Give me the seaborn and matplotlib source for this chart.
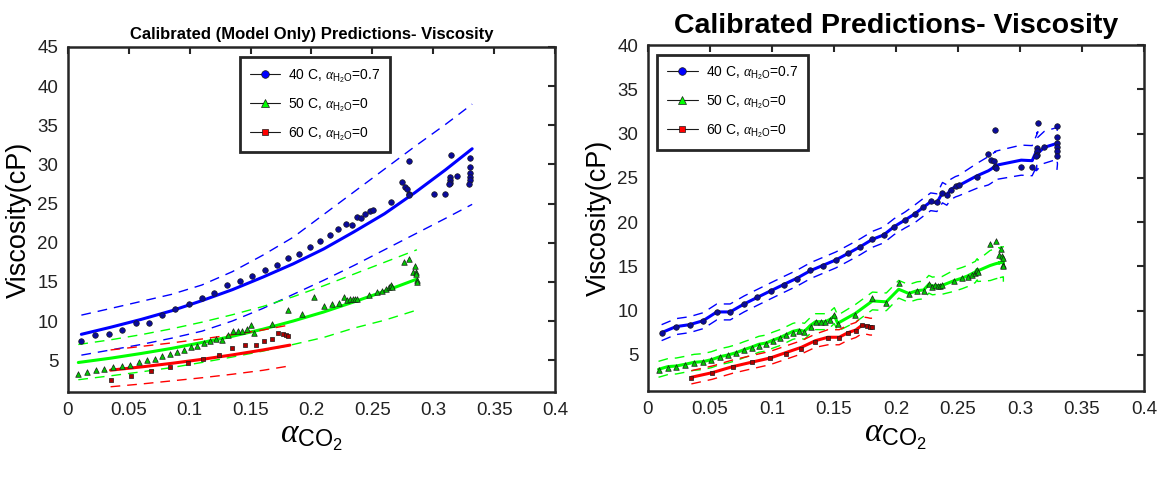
import matplotlib
matplotlib.use("Agg")
import matplotlib.pyplot as plt
from matplotlib.lines import Line2D
import seaborn as sns

# ---------------- measured viscosities ----------------
a40 = [0.011, 0.0225, 0.0335, 0.0445, 0.0555, 0.0663, 0.0775, 0.0883, 0.0992, 0.1098,
       0.120, 0.131, 0.1413, 0.1515, 0.1615, 0.1713, 0.181, 0.190, 0.1985, 0.2073,
       0.215, 0.222, 0.228, 0.233, 0.2375, 0.241, 0.2442, 0.248, 0.2505, 0.265,
       0.2745, 0.2768, 0.2787, 0.2798, 0.2803, 0.2800, 0.3010, 0.3098, 0.3145, 0.3135,
       0.3135, 0.3135, 0.3130, 0.3195, 0.3300, 0.3300, 0.3302, 0.3302, 0.3300, 0.3298]
v40 = [7.5, 8.2, 8.4, 8.8, 9.8, 9.8, 10.75, 11.5, 12.2, 12.9,
       13.6, 14.6, 15.05, 15.73, 16.46, 17.2, 18.05, 18.55, 19.48, 20.25,
       20.93, 21.7, 22.34, 22.25, 23.27, 23.1, 23.66, 24.08, 24.21, 25.15,
       27.7, 27.07, 26.85, 26.26, 26.09, 30.43, 26.26, 26.2, 31.16, 28.39,
       28.0, 27.58, 27.49, 28.5, 30.81, 29.62, 28.94, 28.43, 28.0, 27.5]

a50 = [0.0085, 0.0159, 0.023, 0.030, 0.0372, 0.0444, 0.0512, 0.0581, 0.0646, 0.0712,
       0.0775, 0.0838, 0.0895, 0.0953, 0.101, 0.1062, 0.1114, 0.1169, 0.1216, 0.1262,
       0.1311, 0.1352, 0.1393, 0.1429, 0.147, 0.1503, 0.153, 0.1673, 0.1810, 0.1922,
       0.2022, 0.2102, 0.2171, 0.2223, 0.2265, 0.2294, 0.2316, 0.2338, 0.2357, 0.2371,
       0.2469, 0.2535, 0.2577, 0.2615, 0.264, 0.2650, 0.2655, 0.2660, 0.2759, 0.2803,
       0.2847, 0.283, 0.2858, 0.2862, 0.2866, 0.2866]
v50 = [3.25, 3.55, 3.68, 3.89, 4.1, 4.23, 4.4, 4.79, 5.0, 5.21,
       5.51, 5.81, 6.06, 6.28, 6.62, 6.87, 7.21, 7.47, 7.72, 7.56,
       8.19, 8.7, 8.7, 8.74, 9.0, 9.51, 8.5, 9.56, 11.45, 10.88,
       13.12, 11.86, 12.2, 12.26, 13.07, 12.67, 12.85, 12.83, 12.8, 12.85,
       13.3, 13.69, 13.78, 14.07, 14.29, 14.45, 14.55, 14.35, 17.56, 17.87,
       17.01, 16.29, 16.2, 15.95, 15.2, 15.0]

a60 = [0.035, 0.0518, 0.0682, 0.0835, 0.0986, 0.1111, 0.1238, 0.135, 0.1451, 0.1542,
       0.1613, 0.1676, 0.1725, 0.1769, 0.1791, 0.1807]
v60 = [2.44, 2.92, 3.64, 4.15, 4.66, 5.13, 5.72, 6.49, 6.92, 6.88,
       7.43, 7.68, 8.41, 8.32, 8.16, 8.11]

# ---------------- model-only curves (mean and bounds) ----------------
grid40 = [0.011, 0.035, 0.06, 0.085, 0.11, 0.135, 0.16, 0.185, 0.21, 0.235, 0.26, 0.285, 0.31, 0.332]
fit40 = [8.3, 9.2, 10.2, 11.3, 12.6, 14.0, 15.6, 17.3, 19.2, 21.4, 23.7, 26.4, 29.3, 32.0]
hi40 = [10.75, 11.6, 12.5, 13.4, 14.6, 16.3, 18.4, 20.7, 23.6, 26.5, 29.4, 32.3, 35.1, 37.7]
lo40 = [5.64, 6.3, 7.0, 7.8, 8.7, 10.0, 11.6, 13.4, 15.2, 17.1, 19.1, 21.1, 23.1, 24.9]

grid50 = [0.0085, 0.035, 0.06, 0.085, 0.11, 0.135, 0.16, 0.185, 0.21, 0.235, 0.26, 0.2866]
fit50 = [4.7, 5.25, 5.85, 6.5, 7.25, 8.05, 8.95, 10.0, 11.15, 12.45, 13.8, 15.35]
hi50 = [7.0, 7.6, 8.25, 9.0, 9.85, 10.8, 11.85, 13.1, 14.5, 16.0, 17.5, 19.1]
lo50 = [2.5, 3.0, 3.5, 4.05, 4.7, 5.4, 6.15, 7.0, 7.9, 9.1, 10.1, 11.4]

grid60 = [0.035, 0.06, 0.085, 0.11, 0.135, 0.16, 0.1823]
fit60 = [3.72, 4.13, 4.59, 5.1, 5.67, 6.3, 6.92]
hi60 = [6.3, 6.75, 7.2, 7.7, 8.25, 8.85, 9.5]
lo60 = [1.6, 1.95, 2.35, 2.75, 3.2, 3.7, 4.27]

# ---------------- calibrated predictions at each measurement ----------------
p40 = [7.52, 8.2, 8.42, 8.87, 9.86, 9.86, 10.76, 11.51, 12.26, 12.98,
       13.66, 14.52, 15.13, 15.73, 16.48, 17.23, 18.06, 18.55, 19.49, 20.24,
       20.92, 21.67, 22.3, 22.2, 23.33, 23.06, 23.7, 24.0, 24.12, 25.21,
       25.8, 26.0, 26.2, 26.34, 26.3, 26.4, 27.0, 26.94, 28.4, 28.3,
       28.0, 27.7, 27.6, 28.44, 28.9, 28.6, 28.44, 28.3, 28.0, 27.7]
w40 = [0.9] * 20 + [1.0] * 4 + [1.15] * 5 + [1.4] + [1.6] * 6 + [1.7] * 2 + [1.8] * 12

p50 = [3.38, 3.68, 3.76, 3.95, 4.17, 4.25, 4.47, 4.81, 5.0, 5.26,
       5.6, 5.9, 6.21, 6.35, 6.69, 6.95, 7.29, 7.67, 7.82, 7.67,
       8.35, 8.76, 8.76, 8.76, 9.03, 9.44, 8.58, 9.7, 11.1, 11.0,
       12.42, 11.95, 12.26, 12.34, 12.98, 12.79, 12.83, 12.83, 12.85, 12.85,
       13.39, 13.69, 13.92, 14.2, 14.37, 14.6, 14.67, 14.5, 15.1, 15.3,
       15.45, 15.4, 15.5, 15.5, 15.53, 14.97]
w50 = [0.9] * 27 + [1.0] * 13 + [1.2] * 8 + [1.7] * 8

p60 = [2.48, 3.0, 3.68, 4.18, 4.66, 5.26, 5.87, 6.61, 7.0, 7.0,
       7.52, 7.82, 8.35, 8.27, 8.2, 8.2]
w60 = [0.75] * 8 + [0.85] * 4 + [0.95] * 4

xtick_vals = [0, 0.05, 0.1, 0.15, 0.2, 0.25, 0.3, 0.35, 0.4]
xtick_text = ["0", "0.05", "0.1", "0.15", "0.2", "0.25", "0.3", "0.35", "0.4"]
legend_text = [r"40 C, $\alpha_{\mathrm{H_2O}}$=0.7",
               r"50 C, $\alpha_{\mathrm{H_2O}}$=0",
               r"60 C, $\alpha_{\mathrm{H_2O}}$=0"]

# ---------------- styling ----------------
sns.set_theme(style="white")
plt.rcParams["font.family"] = ["Liberation Sans", "DejaVu Sans"]
plt.rcParams["mathtext.fontset"] = "custom"
plt.rcParams["mathtext.rm"] = "Liberation Sans"
plt.rcParams["mathtext.it"] = "Liberation Serif:italic"
plt.rcParams["mathtext.bf"] = "Liberation Sans:bold"
plt.rcParams["text.color"] = "black"
plt.rcParams["axes.labelcolor"] = "black"

BLUE, GREEN, RED = "#0000ff", "#00ff00", "#ff0000"
DASH = (0, (7, 5))
AX_COLOR = "#262626"

series = [
    dict(a=a40, v=v40, grid=grid40, fit=fit40, hi=hi40, lo=lo40, p=p40, w=w40,
         color=BLUE, marker="o", face="#0a0a9c", s=16, lface=BLUE),
    dict(a=a50, v=v50, grid=grid50, fit=fit50, hi=hi50, lo=lo50, p=p50, w=w50,
         color=GREEN, marker="^", face="#00c800", s=16, lface=GREEN),
    dict(a=a60, v=v60, grid=grid60, fit=fit60, hi=hi60, lo=lo60, p=p60, w=w60,
         color=RED, marker="s", face="#b00000", s=10, lface=RED),
]

fig = plt.figure(figsize=(11.6, 4.79), dpi=100)
ax_l = fig.add_axes([0.0586, 0.1816, 0.4198, 0.7203])
ax_r = fig.add_axes([0.5586, 0.1837, 0.4276, 0.7223])


def style_axes(ax, ymax, yticks):
    ax.set_xlim(0, 0.4)
    ax.set_ylim(0.93, ymax)
    ax.set_xticks(xtick_vals)
    ax.set_xticklabels(xtick_text)
    ax.set_yticks(yticks)
    ax.set_yticklabels([str(t) for t in yticks])
    ax.tick_params(direction="in", top=True, right=True, length=5, width=1.5,
                   color=AX_COLOR, labelsize=13.5, pad=7, labelcolor="#222222")
    for sp in ax.spines.values():
        sp.set_linewidth(1.8)
        sp.set_color(AX_COLOR)
    ax.set_xlabel(r"$\alpha_{\mathrm{CO_2}}$", fontsize=24, labelpad=2)
    ax.set_ylabel("Viscosity(cP)", fontsize=19.5, labelpad=4)


def add_legend(ax, anchor):
    handles = [Line2D([0], [0], color="k", lw=0.8, marker=s["marker"],
                      markerfacecolor=s["lface"], markeredgecolor="k",
                      markeredgewidth=0.5, markersize=5.5 if s["marker"] != "s" else 4.5)
               for s in series]
    leg = ax.legend(handles, legend_text, loc="upper left", bbox_to_anchor=anchor,
                    borderaxespad=0, fontsize=10, frameon=True, fancybox=False,
                    handlelength=2.2, handletextpad=0.6, labelspacing=0.8,
                    borderpad=0.7)
    leg.get_frame().set_edgecolor(AX_COLOR)
    leg.get_frame().set_linewidth(2.0)
    leg.get_frame().set_alpha(1)


# left: model-only curves with bounds
for s in series:
    sns.lineplot(x=s["grid"], y=s["hi"], ax=ax_l, color=s["color"], lw=1.0,
                 linestyle=DASH, sort=False, estimator=None)
    sns.lineplot(x=s["grid"], y=s["lo"], ax=ax_l, color=s["color"], lw=1.0,
                 linestyle=DASH, sort=False, estimator=None)
    sns.lineplot(x=s["grid"], y=s["fit"], ax=ax_l, color=s["color"], lw=2.2,
                 sort=False, estimator=None)
for s in series:
    sns.scatterplot(x=s["a"], y=s["v"], ax=ax_l, marker=s["marker"], s=s["s"],
                    color=s["face"], edgecolor="k", linewidth=0.5, zorder=4)
ax_l.set_title("Calibrated (Model Only) Predictions- Viscosity", fontsize=12,
               fontweight="bold", pad=6, color="black")
style_axes(ax_l, 45, [5, 10, 15, 20, 25, 30, 35, 40, 45])
add_legend(ax_l, (0.353, 0.970))

# right: calibrated predictions evaluated at each measurement
for s in series:
    up = [p + w for p, w in zip(s["p"], s["w"])]
    dn = [p - w for p, w in zip(s["p"], s["w"])]
    sns.lineplot(x=s["a"], y=up, ax=ax_r, color=s["color"], lw=1.0,
                 linestyle=DASH, sort=False, estimator=None)
    sns.lineplot(x=s["a"], y=dn, ax=ax_r, color=s["color"], lw=1.0,
                 linestyle=DASH, sort=False, estimator=None)
    sns.lineplot(x=s["a"], y=s["p"], ax=ax_r, color=s["color"], lw=2.2,
                 sort=False, estimator=None)
for s in series:
    sns.scatterplot(x=s["a"], y=s["v"], ax=ax_r, marker=s["marker"], s=s["s"],
                    color=s["face"], edgecolor="k", linewidth=0.5, zorder=4)
ax_r.set_title("Calibrated Predictions- Viscosity", fontsize=20.5,
               fontweight="bold", pad=9, color="black")
style_axes(ax_r, 40, [5, 10, 15, 20, 25, 30, 35, 40])
add_legend(ax_r, (0.019, 0.9725))

fig.savefig("out.png", dpi=100, facecolor="white")
